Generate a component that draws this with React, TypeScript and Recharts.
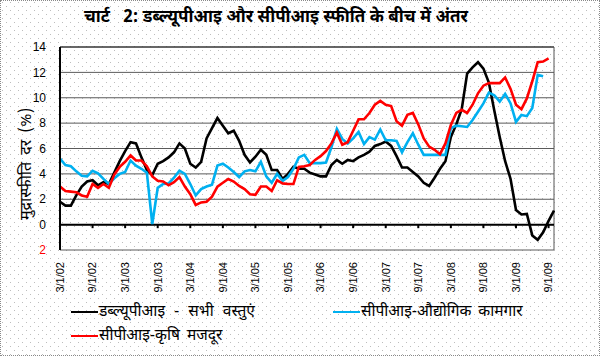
import React from 'react';
import { LineChart, Line, XAxis, YAxis, CartesianGrid, ReferenceLine } from 'recharts';

const titleText = 'चार्ट   2: डब्ल्यूपीआइ और सीपीआइ स्फीति के बीच में अंतर';
const yLabel = 'मुद्रास्फीति दर (%)';
const seriesNames = ['डब्ल्यूपीआइ - सभी वस्तुएं', 'सीपीआइ-औद्योगिक कामगार', 'सीपीआइ-कृषि मजदूर'];

// monthly categories, Mar 2002 .. Oct 2009
const months: string[] = [];
for (let i = 0; i < 92; i++) {
  const m = ((2 + i) % 12) + 1;
  const y = 2 + Math.floor((2 + i) / 12);
  months.push(`${m}/1/${String(y).padStart(2, '0')}`);
}

const tickLabels = ['3/1/02', '9/1/02', '3/1/03', '9/1/03', '3/1/04', '9/1/04', '3/1/05', '9/1/05',
  '3/1/06', '9/1/06', '3/1/07', '9/1/07', '3/1/08', '9/1/08', '3/1/09', '9/1/09'];

const yTicks = [-2, 0, 2, 4, 6, 8, 10, 12, 14];

const wpi = [1.8, 1.5, 1.5, 2.3, 3.0, 3.4, 3.5, 3.1, 3.35, 3.2, 4.1, 5.0, 5.8, 6.5, 6.4, 5.3, 4.3, 3.9, 4.8, 5.0,
  5.3, 5.7, 6.4, 6.0, 4.8, 4.5, 4.95, 6.8, 7.6, 8.4, 7.8, 7.2, 7.4, 6.6, 5.5, 4.9, 5.35, 5.9, 5.5, 4.3,
  4.3, 3.6, 4.0, 4.55, 4.4, 4.4, 4.1, 3.95, 3.8, 3.8, 4.7, 5.1, 4.8, 5.1, 5.0, 5.3, 5.5, 5.75, 6.2, 6.35,
  6.55, 6.2, 5.4, 4.5, 4.5, 4.15, 3.8, 3.3, 3.05, 3.7, 4.4, 5.0, 6.9, 7.9, 9.1, 11.9, 12.4, 12.8, 12.3, 11.2,
  9.0, 6.9, 5.0, 3.6, 1.15, 0.8, 0.85, -0.85, -1.2, -0.6, 0.3, 1.1];

const cpiIW = [5.2, 4.7, 4.6, 4.2, 3.85, 3.8, 4.25, 4.05, 3.6, 3.2, 3.65, 4.0, 4.15, 5.05, 4.65, 4.4, 4.1, 0.05, 2.9, 3.2,
  3.25, 3.7, 4.25, 4.0, 3.2, 2.3, 2.8, 3.0, 3.15, 4.65, 4.8, 4.5, 4.15, 3.75, 4.2, 4.3, 4.2, 4.95, 3.8, 3.3,
  4.0, 3.45, 3.75, 4.4, 5.3, 5.5, 4.85, 4.85, 4.85, 4.9, 6.1, 7.55, 6.75, 6.4, 6.8, 7.3, 6.35, 6.9, 6.7, 7.5,
  6.65, 6.65, 6.6, 5.7, 6.5, 7.2, 6.3, 5.5, 5.5, 5.5, 5.5, 5.5, 7.6, 7.8, 7.75, 7.7, 8.25, 8.9, 9.55, 10.4,
  10.2, 9.7, 10.3, 9.55, 8.1, 8.65, 8.55, 9.2, 11.8, 11.7];

const cpiAL = [3.0, 2.65, 2.6, 2.55, 2.3, 2.2, 3.2, 2.9, 3.2, 2.9, 3.95, 4.55, 4.95, 5.45, 5.05, 5.05, 4.6, 3.8, 3.45, 3.4,
  3.1, 3.35, 3.75, 3.0, 2.4, 1.55, 1.75, 1.8, 2.2, 3.0, 3.3, 3.6, 3.4, 3.05, 2.8, 2.4, 2.35, 3.0, 3.0, 2.65,
  3.5, 3.25, 3.2, 3.2, 4.55, 4.6, 4.7, 5.1, 5.4, 5.8, 6.4, 7.25, 6.3, 6.5, 7.4, 8.3, 8.3, 8.8, 9.45, 9.75,
  9.45, 9.35, 8.15, 7.8, 8.65, 8.8, 7.9, 6.8, 6.15, 5.9, 5.55, 6.4, 7.85, 8.8, 9.05, 8.8, 9.45, 10.35, 10.95, 11.15,
  11.15, 11.15, 11.6, 10.7, 9.45, 9.1, 9.95, 11.3, 12.8, 12.85, 13.1];

const data = months.map((m, i) => ({
  month: m,
  wpi: wpi[i] ?? null,
  iw: cpiIW[i] ?? null,
  al: cpiAL[i] ?? null,
}));

const colors = { wpi: '#000000', iw: '#00b0f0', al: '#ff0000' };
const deva = '"Noto Sans Devanagari", "Lohit Devanagari", Mangal, "Noto Sans", "DejaVu Sans", sans-serif';
const latin = '"Liberation Sans", Arial, sans-serif';

const dotBg = `url("data:image/svg+xml;utf8,<svg xmlns='http://www.w3.org/2000/svg' width='8' height='8'><rect x='1' y='1' width='1' height='1' fill='%23bdbdbd'/><rect x='5' y='5' width='1' height='1' fill='%23bdbdbd'/></svg>")`;

const XTick = (props: any) => {
  const { x, y, payload } = props;
  return (
    <text x={x} y={y + 4} transform={`rotate(-90 ${x} ${y + 4})`} textAnchor="end" dy="0.35em"
      fontFamily={latin} fontSize={11} fill="#000">
      {payload.value}
    </text>
  );
};

const YTick = (props: any) => {
  const { x, y, payload } = props;
  const v = payload.value as number;
  return (
    <text x={x - 6} y={y} textAnchor="end" dy="0.35em" fontFamily={latin} fontSize={12}
      fill={v < 0 ? '#ff0000' : '#000'}>
      {Math.abs(v)}
    </text>
  );
};

const LegendItem = ({ left, top, color, label, ws }: { left: number; top: number; color: string; label: string; ws: number }) => (
  <div style={{ position: 'absolute', left, top, display: 'flex', alignItems: 'center', whiteSpace: 'pre' }}>
    <div style={{ width: 27, height: 2, background: color }} />
    <span style={{ fontFamily: deva, fontSize: 15.5, color: '#000', marginLeft: 1, wordSpacing: ws }}>{label}</span>
  </div>
);

export default function App() {
  return (
    <div style={{
      position: 'absolute', left: 0, top: 0, width: 600, height: 356, overflow: 'hidden',
      backgroundColor: '#fff', backgroundImage: dotBg, boxSizing: 'border-box', border: '1px dotted #888',
    }}>
      <div style={{
        position: 'absolute', left: 0, width: 550, top: 6, textAlign: 'center',
        fontFamily: deva, fontSize: 17, fontWeight: 'bold', color: '#000', whiteSpace: 'pre',
      }}>{titleText}</div>
      <div style={{
        position: 'absolute', left: 26, top: 163, transform: 'translate(-50%, -50%) rotate(-90deg)',
        fontFamily: deva, fontSize: 16, color: '#000', whiteSpace: 'pre', wordSpacing: 3,
      }}>{yLabel}</div>
      <div style={{ position: 'absolute', left: -1, top: -1 }}>
        <LineChart width={600} height={356} data={data}
          margin={{ top: 47, right: 46, bottom: 46, left: 15 }}>
          <CartesianGrid horizontal vertical={false} stroke="#5a5a5a" strokeWidth={1} />
          <XAxis dataKey="month" type="category" ticks={tickLabels} interval={0}
            tickLine={false} axisLine={false} tick={<XTick />} height={60} />
          <YAxis domain={[-2, 14]} ticks={yTicks} interval={0} width={45} tickLine={false}
            axisLine={{ stroke: '#000', strokeWidth: 2 }} tick={<YTick />} allowDataOverflow />
          <ReferenceLine y={14} stroke="#222" strokeWidth={1} />
          <ReferenceLine x={months[months.length - 1]} stroke="#555" strokeWidth={1} />
          <ReferenceLine y={0} stroke="#000" strokeWidth={2} />
          {tickLabels.map((t) => (
            <ReferenceLine key={t} segment={[{ x: t, y: 0 }, { x: t, y: -0.28 }]} stroke="#000" strokeWidth={2} />
          ))}
          <Line type="linear" dataKey="wpi" stroke={colors.wpi} strokeWidth={2.6} dot={false}
            isAnimationActive={false} connectNulls={false} />
          <Line type="linear" dataKey="iw" stroke={colors.iw} strokeWidth={2.6} dot={false}
            isAnimationActive={false} connectNulls={false} />
          <Line type="linear" dataKey="al" stroke={colors.al} strokeWidth={2.6} dot={false}
            isAnimationActive={false} connectNulls={false} />
        </LineChart>
      </div>
      <LegendItem left={70} top={301} color={colors.wpi} label={seriesNames[0]} ws={5} />
      <LegendItem left={332} top={301} color={colors.iw} label={seriesNames[1]} ws={3} />
      <LegendItem left={70} top={325} color={colors.al} label={seriesNames[2]} ws={3} />
    </div>
  );
}
